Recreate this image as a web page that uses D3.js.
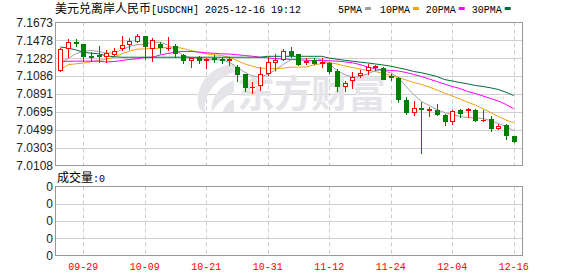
<!DOCTYPE html>
<html>
<head>
<meta charset="utf-8">
<script src="https://cdn.jsdelivr.net/npm/d3@7"></script>
<style>
  html, body { margin: 0; padding: 0; background: #fff; }
  svg { display: block; }
</style>
</head>
<body>
<div id="view"></div>
<script>
// daily candles, 09-24 .. 12-16
const dates = [
  '09-24','09-25','09-26','09-29','09-30','10-01','10-02','10-03','10-06','10-07',
  '10-08','10-09','10-10','10-13','10-14','10-15','10-16','10-17','10-20','10-21',
  '10-22','10-23','10-24','10-27','10-28','10-29','10-30','10-31','11-03','11-04',
  '11-05','11-06','11-07','11-10','11-11','11-12','11-13','11-14','11-17','11-18',
  '11-19','11-20','11-21','11-24','11-25','11-26','11-27','11-28','12-01','12-02',
  '12-03','12-04','12-05','12-08','12-09','12-10','12-11','12-12','12-15','12-16'
];
const open = [
  7.1155,7.1396,7.1463,7.1440,7.1306,7.1317,7.1304,7.1330,7.1392,7.1443,
  7.1476,7.1523,7.1392,7.1440,7.1394,7.1421,7.1315,7.1265,7.1293,7.1265,
  7.1281,7.1271,7.1268,7.1191,7.1104,7.0962,7.0991,7.1118,7.1239,7.1276,
  7.1356,7.1323,7.1246,7.1268,7.1235,7.1228,7.1140,7.0976,7.1046,7.1101,
  7.1148,7.1188,7.1175,7.1085,7.1071,7.0830,7.0696,7.0740,7.0718,7.0718,
  7.0663,7.0600,7.0718,7.0713,7.0718,7.0606,7.0622,7.0516,7.0553,7.0436
];
const close = [
  7.1388,7.1457,7.1449,7.1304,7.1298,7.1306,7.1337,7.1363,7.1432,7.1476,
  7.1523,7.1421,7.1484,7.1407,7.1399,7.1337,7.1265,7.1282,7.1265,7.1271,
  7.1271,7.1265,7.1274,7.1104,7.0965,7.0969,7.1112,7.1246,7.1265,7.1359,
  7.1320,7.1221,7.1254,7.1232,7.1243,7.1140,7.0976,7.1009,7.1082,7.1123,
  7.1184,7.1195,7.1060,7.1079,7.0834,7.0691,7.0740,7.0721,7.0724,7.0674,
  7.0593,7.0707,7.0688,7.0721,7.0604,7.0611,7.0521,7.0535,7.0440,7.0374
];
const high = [
  7.1392,7.1495,7.1487,7.1443,7.1345,7.1414,7.1374,7.1396,7.1520,7.1501,
  7.1549,7.1525,7.1506,7.1465,7.1512,7.1443,7.1330,7.1287,7.1301,7.1287,
  7.1312,7.1293,7.1293,7.1213,7.1104,7.1020,7.1184,7.1293,7.1323,7.1381,
  7.1403,7.1330,7.1287,7.1282,7.1282,7.1239,7.1166,7.1038,7.1129,7.1148,
  7.1221,7.1213,7.1184,7.1104,7.1082,7.0863,7.0819,7.0801,7.0746,7.0776,
  7.0674,7.0718,7.0721,7.0740,7.0721,7.0710,7.0655,7.0564,7.0560,7.0436
];
const low = [
  7.1137,7.1293,7.1416,7.1257,7.1257,7.1241,7.1246,7.1312,7.1374,7.1385,
  7.1465,7.1271,7.1250,7.1337,7.1367,7.1290,7.1228,7.1184,7.1228,7.1173,
  7.1239,7.1228,7.1213,7.1038,7.0918,7.0899,7.0929,7.1093,7.1155,7.1265,
  7.1293,7.1213,7.1221,7.1221,7.1184,7.1118,7.0921,7.0921,7.0954,7.1082,
  7.1104,7.1155,7.1055,7.1046,7.0801,7.0674,7.0658,7.0247,7.0648,7.0658,
  7.0553,7.0560,7.0637,7.0644,7.0600,7.0593,7.0483,7.0502,7.0396,7.0360
];

// moving averages as drawn
const ma5 = [
  7.1235,7.1276,7.1330,7.1359,7.1367,7.1356,7.1337,7.1341,7.1374,7.1410,
  7.1432,7.1432,7.1457,7.1457,7.1427,7.1367,7.1312,7.1287,7.1276,7.1268,
  7.1265,7.1265,7.1239,7.1184,7.1129,7.1088,7.1077,7.1104,7.1155,7.1213,
  7.1265,7.1276,7.1279,7.1282,7.1265,7.1221,7.1148,7.1104,7.1074,7.1082,
  7.1112,7.1148,7.1148,7.1120,7.1071,7.0973,7.0885,7.0808,7.0765,7.0721,
  7.0688,7.0666,7.0644,7.0633,7.0628,7.0622,7.0600,7.0568,7.0535,7.0491
];
const ma10 = [
  7.1159,7.1210,7.1221,7.1228,7.1243,7.1257,7.1271,7.1293,7.1330,7.1359,
  7.1381,7.1385,7.1388,7.1392,7.1403,7.1405,7.1388,7.1367,7.1348,7.1330,
  7.1320,7.1312,7.1293,7.1257,7.1221,7.1195,7.1175,7.1170,7.1170,7.1173,
  7.1184,7.1184,7.1186,7.1208,7.1224,7.1235,7.1219,7.1197,7.1181,7.1164,
  7.1148,7.1137,7.1115,7.1093,7.1071,7.1044,7.1016,7.0994,7.0967,7.0934,
  7.0901,7.0869,7.0836,7.0801,7.0770,7.0729,7.0688,7.0644,7.0606,7.0575
];
const ma20 = [
  7.1239,7.1250,7.1250,7.1250,7.1250,7.1250,7.1241,7.1246,7.1257,7.1268,
  7.1276,7.1290,7.1293,7.1317,7.1334,7.1350,7.1356,7.1356,7.1350,7.1341,
  7.1337,7.1330,7.1328,7.1320,7.1312,7.1304,7.1293,7.1287,7.1276,7.1276,
  7.1268,7.1265,7.1260,7.1257,7.1257,7.1254,7.1250,7.1243,7.1232,7.1213,
  7.1186,7.1166,7.1155,7.1148,7.1142,7.1126,7.1104,7.1082,7.1055,7.1027,
  7.1000,7.0973,7.0951,7.0918,7.0896,7.0869,7.0841,7.0814,7.0776,7.0729
];
const ma30 = [
  7.1405,7.1394,7.1374,7.1348,7.1337,7.1330,7.1309,7.1298,7.1293,7.1293,
  7.1293,7.1293,7.1293,7.1293,7.1293,7.1293,7.1293,7.1293,7.1293,7.1293,
  7.1293,7.1293,7.1293,7.1293,7.1293,7.1293,7.1293,7.1303,7.1303,7.1303,
  7.1303,7.1303,7.1303,7.1303,7.1303,7.1284,7.1271,7.1260,7.1250,7.1239,
  7.1230,7.1219,7.1208,7.1195,7.1177,7.1159,7.1137,7.1123,7.1104,7.1082,
  7.1049,7.1033,7.1016,7.1002,7.0984,7.0973,7.0958,7.0940,7.0910,7.0874
];

const priceTicks = [7.1673, 7.1478, 7.1282, 7.1086, 7.0891, 7.0695, 7.0499, 7.0303, 7.0108];
const xTickLabels = ['09-29', '10-09', '10-21', '10-31', '11-12', '11-24', '12-04', '12-16'];
const volTicks = ['0', '0', '0', '0', '0'];
const volume = 0;

const maSeries = [
  { name: '5PMA', values: ma5, color: '#a0a0a0' },
  { name: '10PMA', values: ma10, color: '#f0a30a' },
  { name: '20PMA', values: ma20, color: '#ff00ff' },
  { name: '30PMA', values: ma30, color: '#006b3c' }
];

const W = 578, H = 276;
const pLeft = 55.5, pRight = 522.5;
const pTop = 22.5, pBottom = 165.5;
const vTop = 186.5, vBottom = 255.5;
const UP = '#ff0000', DOWN = '#008000';
const MONO = "'Liberation Mono', 'DejaVu Sans Mono', monospace";
const CJK = "'Noto Sans CJK SC', sans-serif";

const svg = d3.select('#view').append('svg')
  .attr('width', W)
  .attr('height', H);

const x = d3.scalePoint().domain(dates).range([60.2, 513.7]);
const y = d3.scaleLinear().domain([priceTicks[priceTicks.length - 1], priceTicks[0]]).range([pBottom, pTop]);
const yVol = d3.scalePoint().domain(d3.range(volTicks.length)).range([vTop, vBottom]);

const px = d => Math.round(x(d)) + 0.5;

// ---- grid ----
const grid = svg.append('g');
grid.selectAll(null)
  .data(priceTicks.slice(1, -1))
  .enter().append('line')
  .attr('x1', pLeft).attr('x2', pRight)
  .attr('y1', d => Math.round(y(d)) + 0.5).attr('y2', d => Math.round(y(d)) + 0.5)
  .attr('stroke', '#d0d0d0');
grid.selectAll(null)
  .data(d3.range(1, volTicks.length - 1))
  .enter().append('line')
  .attr('x1', pLeft).attr('x2', pRight)
  .attr('y1', d => Math.round(yVol(d)) + 0.5).attr('y2', d => Math.round(yVol(d)) + 0.5)
  .attr('stroke', '#d0d0d0');
[[pTop, pBottom], [vTop, vBottom]].forEach(([a, b]) => {
  grid.selectAll(null)
    .data(xTickLabels)
    .enter().append('line')
    .attr('x1', px).attr('x2', px)
    .attr('y1', a).attr('y2', b)
    .attr('stroke', '#cccccc')
    .attr('stroke-dasharray', '4,3');
});

// ---- watermark ----
const wm = svg.append('g').attr('fill', '#e5e5e9');
wm.append('path')
  .attr('d', 'M234,64 C210,66 196,84 198,104 C199,109 202,112 205,112 C203,96 214,80 234,72 Z'
    + ' M234,80 C220,86 210,98 212,112 C218,102 226,96 234,92 Z'
    + ' M234,99 C228,102 224,106 223,112 L234,112 Z');
wm.append('text')
  .attr('x', 237).attr('y', 107)
  .attr('font-family', CJK)
  .attr('font-weight', 'bold')
  .attr('font-size', 38)
  .attr('letter-spacing', -1)
  .text('东方财富');

// ---- moving averages ----
const line = d3.line().x((v, i) => x(dates[i])).y(v => y(v));
svg.append('g').selectAll('path')
  .data(maSeries)
  .enter().append('path')
  .attr('d', d => line(d.values))
  .attr('fill', 'none')
  .attr('stroke', d => d.color)
  .attr('stroke-width', 1);

// ---- candles ----
const candles = dates.map((d, i) => ({ date: d, o: open[i], c: close[i], h: high[i], l: low[i] }));
const cg = svg.append('g').selectAll('g')
  .data(candles)
  .enter().append('g');

cg.each(function (d) {
  const g = d3.select(this);
  const cx = px(d.date);
  const up = d.c > d.o;
  const col = up ? UP : DOWN;
  const yTop = Math.round(y(Math.max(d.o, d.c)));
  const yBot = Math.round(y(Math.min(d.o, d.c)));
  const yH = Math.round(y(d.h));
  const yL = Math.round(y(d.l));
  g.append('line')
    .attr('x1', cx).attr('x2', cx)
    .attr('y1', yH).attr('y2', yL + 1)
    .attr('stroke', col);
  if (yBot - yTop < 2) {
    g.append('rect')
      .attr('x', cx - 2.5).attr('y', yTop)
      .attr('width', 5).attr('height', Math.max(1, yBot - yTop + 1))
      .attr('fill', col);
  } else if (up) {
    g.append('rect')
      .attr('x', cx - 2).attr('y', yTop + 0.5)
      .attr('width', 4).attr('height', yBot - yTop)
      .attr('fill', '#fff')
      .attr('stroke', col);
  } else {
    g.append('rect')
      .attr('x', cx - 2.5).attr('y', yTop)
      .attr('width', 5).attr('height', yBot - yTop + 1)
      .attr('fill', col);
  }
});

// ---- frames ----
svg.append('rect')
  .attr('x', pLeft).attr('y', pTop)
  .attr('width', pRight - pLeft).attr('height', pBottom - pTop)
  .attr('fill', 'none').attr('stroke', '#999');
svg.append('rect')
  .attr('x', pLeft).attr('y', vTop)
  .attr('width', pRight - pLeft).attr('height', vBottom - vTop)
  .attr('fill', 'none').attr('stroke', '#999');

// ---- axis labels ----
svg.append('g').selectAll('text')
  .data(priceTicks)
  .enter().append('text')
  .attr('x', 53).attr('y', d => y(d))
  .attr('dy', '0.36em')
  .attr('text-anchor', 'end')
  .attr('font-family', "'Liberation Sans', Arial, sans-serif")
  .attr('font-size', 12)
  .attr('fill', '#222')
  .text(d => d.toFixed(4));

svg.append('g').selectAll('text')
  .data(volTicks)
  .enter().append('text')
  .attr('x', 53).attr('y', (d, i) => yVol(i))
  .attr('dy', '0.36em')
  .attr('text-anchor', 'end')
  .attr('font-family', "'Liberation Sans', Arial, sans-serif")
  .attr('font-size', 12)
  .attr('fill', '#222')
  .text(d => d);

svg.append('g').selectAll('text')
  .data(xTickLabels)
  .enter().append('text')
  .attr('x', d => x(d)).attr('y', 269.5)
  .attr('text-anchor', 'middle')
  .attr('font-family', MONO)
  .attr('font-size', 10)
  .attr('fill', '#ff0000')
  .text(d => d);

// ---- title & legend ----
const title = svg.append('text').attr('x', 55).attr('y', 12.5).attr('fill', '#000');
title.append('tspan').attr('font-family', CJK).attr('font-size', 12).text('美元兑离岸人民币');
title.append('tspan').attr('font-family', MONO).attr('font-size', 10)
  .text('[USDCNH] 2025-12-16 19:12');

const legendX = [338, 380, 425.7, 471.7];
const lg = svg.append('g').selectAll('g')
  .data(maSeries)
  .enter().append('g')
  .attr('transform', (d, i) => `translate(${legendX[i]},0)`);
lg.append('text')
  .attr('y', 12.5)
  .attr('font-family', MONO).attr('font-size', 10)
  .attr('fill', '#000')
  .text(d => d.name);
lg.append('rect')
  .attr('x', d => d.name.length * 6 + 3).attr('y', 7)
  .attr('width', 6).attr('height', 3)
  .attr('fill', d => d.color);

const vl = svg.append('text').attr('x', 57).attr('y', 182).attr('fill', '#000');
vl.append('tspan').attr('font-family', CJK).attr('font-size', 12).text('成交量');
vl.append('tspan').attr('font-family', MONO).attr('font-size', 10).text(':' + volume);
</script>
</body>
</html>
